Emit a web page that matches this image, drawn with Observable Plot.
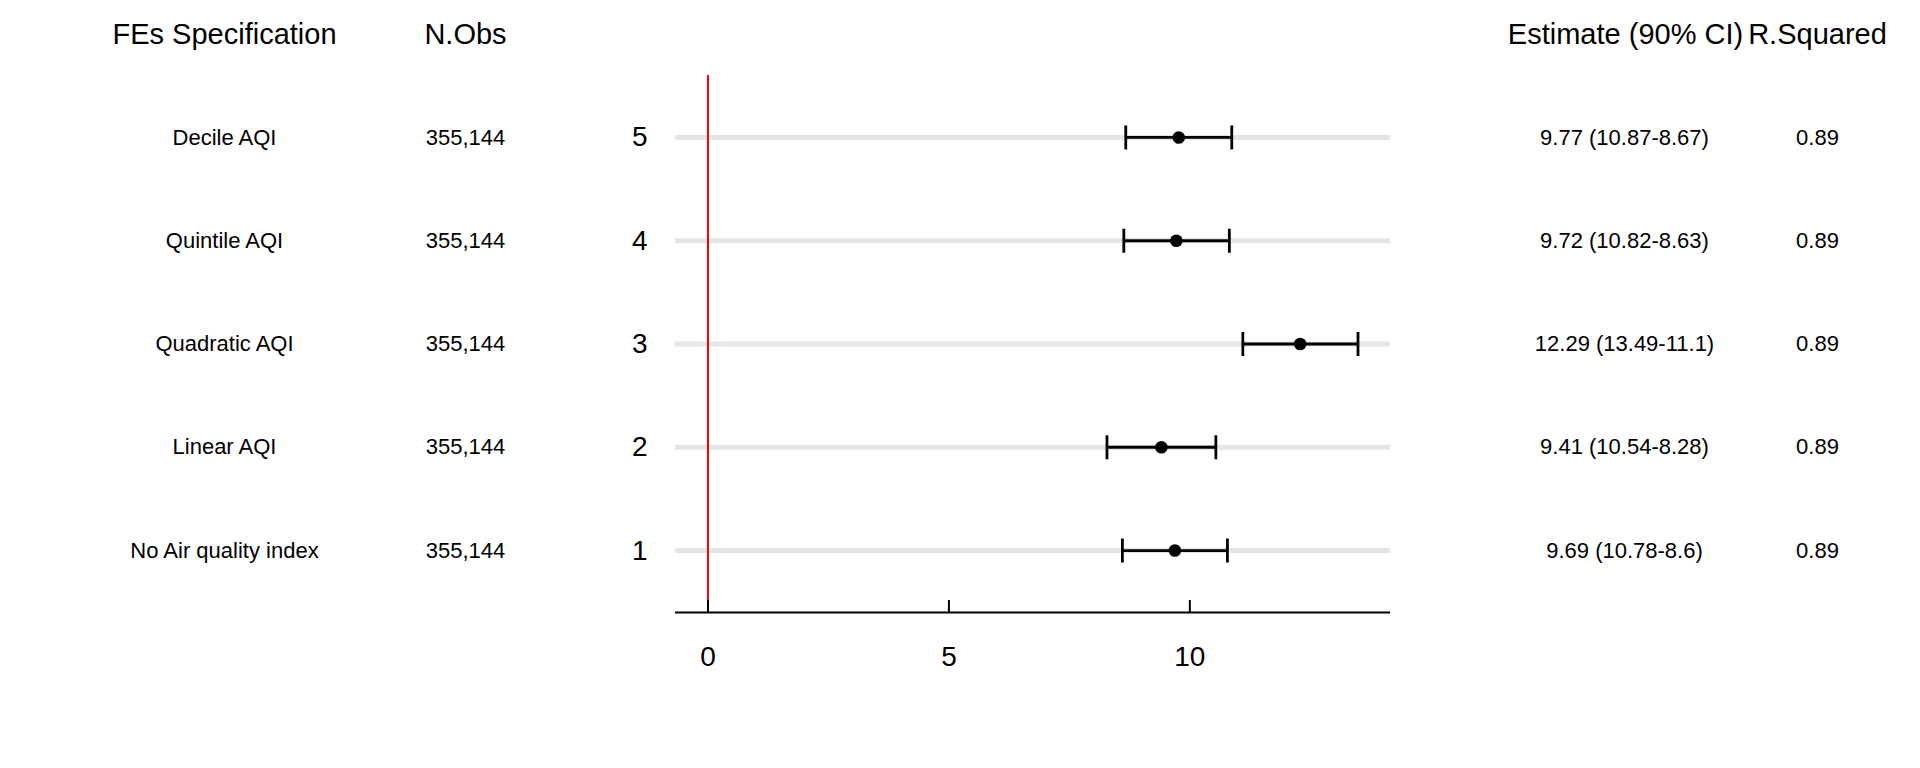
<!DOCTYPE html>
<html>
<head>
<meta charset="utf-8">
<script src="https://cdn.jsdelivr.net/npm/d3@7"></script>
<script src="https://cdn.jsdelivr.net/npm/@observablehq/plot@0.6"></script>
<style>
  html, body { margin: 0; padding: 0; background: #fff; }
  #chart svg { display: block; }
</style>
</head>
<body>
<div id="chart"></div>
<script>
// ---- data ----
const rowIds = [5, 4, 3, 2, 1];
const specs = ["Decile AQI", "Quintile AQI", "Quadratic AQI", "Linear AQI", "No Air quality index"];
const nObs = [355144, 355144, 355144, 355144, 355144];
const estimates = [9.77, 9.72, 12.29, 9.41, 9.69];
const upper = [10.87, 10.82, 13.49, 10.54, 10.78];
const lower = [8.67, 8.63, 11.1, 8.28, 8.6];
const rSquared = [0.89, 0.89, 0.89, 0.89, 0.89];
const headers = ["FEs Specification", "N.Obs", "Estimate (90% CI)", "R.Squared"];
const xTicks = [0, 5, 10];
const yTicks = [1, 2, 3, 4, 5];
const refLine = [0];

const rows = rowIds.map((id, i) => ({
  id,
  spec: specs[i],
  nobs: d3.format(",")(nObs[i]),
  est: estimates[i],
  lo: lower[i],
  hi: upper[i],
  label: `${estimates[i]} (${upper[i]}-${lower[i]})`,
  r2: rSquared[i].toFixed(2)
}));

const xExtent = [Math.min(0, d3.min(lower)), d3.max(upper)];
const xPad = (xExtent[1] - xExtent[0]) * 0.05;

const capSymbol = {
  draw(ctx, size) {
    const r = Math.sqrt(size / Math.PI);
    ctx.moveTo(0, -r);
    ctx.lineTo(0, r);
  }
};

const font = "'Liberation Sans', Arial, Helvetica, sans-serif";

const chart = Plot.plot({
  width: 1920,
  height: 768,
  marginLeft: 675,
  marginRight: 530,
  marginTop: 75,
  marginBottom: 156,
  style: { fontFamily: font, background: "#fff", color: "#000" },
  x: { domain: [xExtent[0] - xPad, xExtent[1] + xPad] },
  y: { domain: [0.4, 5.6] },
  marks: [
    // row guide lines
    Plot.ruleY(rows, { y: "id", stroke: "#e5e5e5", strokeWidth: 5 }),
    // reference line at zero
    Plot.ruleX(refLine, { stroke: "#ff0000", strokeWidth: 2 }),
    // inward ticks on x axis
    Plot.ruleX(xTicks, { stroke: "#000", strokeWidth: 2, insetTop: 525 }),
    // x axis line
    Plot.ruleY([0.4], { stroke: "#000", strokeWidth: 2 }),
    Plot.axisX(xTicks, { tickSize: 0, tickPadding: 34, fontSize: 28, label: null, fill: "#000", tickFormat: d3.format("d") }),
    Plot.axisY(yTicks, { tickSize: 0, tickPadding: 28, fontSize: 28, label: null, fill: "#000", tickFormat: d3.format("d") }),
    // error bars
    Plot.ruleY(rows, { y: "id", x1: "lo", x2: "hi", stroke: "#000", strokeWidth: 2.8 }),
    Plot.dot(rows, { x: "lo", y: "id", symbol: capSymbol, r: 12, stroke: "#000", strokeWidth: 2.8, fill: "none" }),
    Plot.dot(rows, { x: "hi", y: "id", symbol: capSymbol, r: 12, stroke: "#000", strokeWidth: 2.8, fill: "none" }),
    Plot.dot(rows, { x: "est", y: "id", r: 6.3, fill: "#000", stroke: null }),
    // table columns
    Plot.text(rows, { y: "id", text: "spec", frameAnchor: "left", dx: -451, fontSize: 22, textAnchor: "middle", fill: "#000" }),
    Plot.text(rows, { y: "id", text: "nobs", frameAnchor: "left", dx: -210, fontSize: 22, textAnchor: "middle", fill: "#000" }),
    Plot.text(rows, { y: "id", text: "label", frameAnchor: "right", dx: 234, fontSize: 22, textAnchor: "middle", fill: "#000" }),
    Plot.text(rows, { y: "id", text: "r2", frameAnchor: "right", dx: 427, fontSize: 22, textAnchor: "middle", fill: "#000" }),
    // headers
    Plot.text([headers[0]], { text: d => d, frameAnchor: "top-left", dx: -451, dy: -41, fontSize: 29, textAnchor: "middle", lineAnchor: "middle", fill: "#000" }),
    Plot.text([headers[1]], { text: d => d, frameAnchor: "top-left", dx: -210, dy: -41, fontSize: 29, textAnchor: "middle", lineAnchor: "middle", fill: "#000" }),
    Plot.text([headers[2]], { text: d => d, frameAnchor: "top-right", dx: 235, dy: -41, fontSize: 29, textAnchor: "middle", lineAnchor: "middle", fill: "#000" }),
    Plot.text([headers[3]], { text: d => d, frameAnchor: "top-right", dx: 427, dy: -41, fontSize: 29, textAnchor: "middle", lineAnchor: "middle", fill: "#000" })
  ]
});

document.getElementById("chart").appendChild(chart);
</script>
</body>
</html>
